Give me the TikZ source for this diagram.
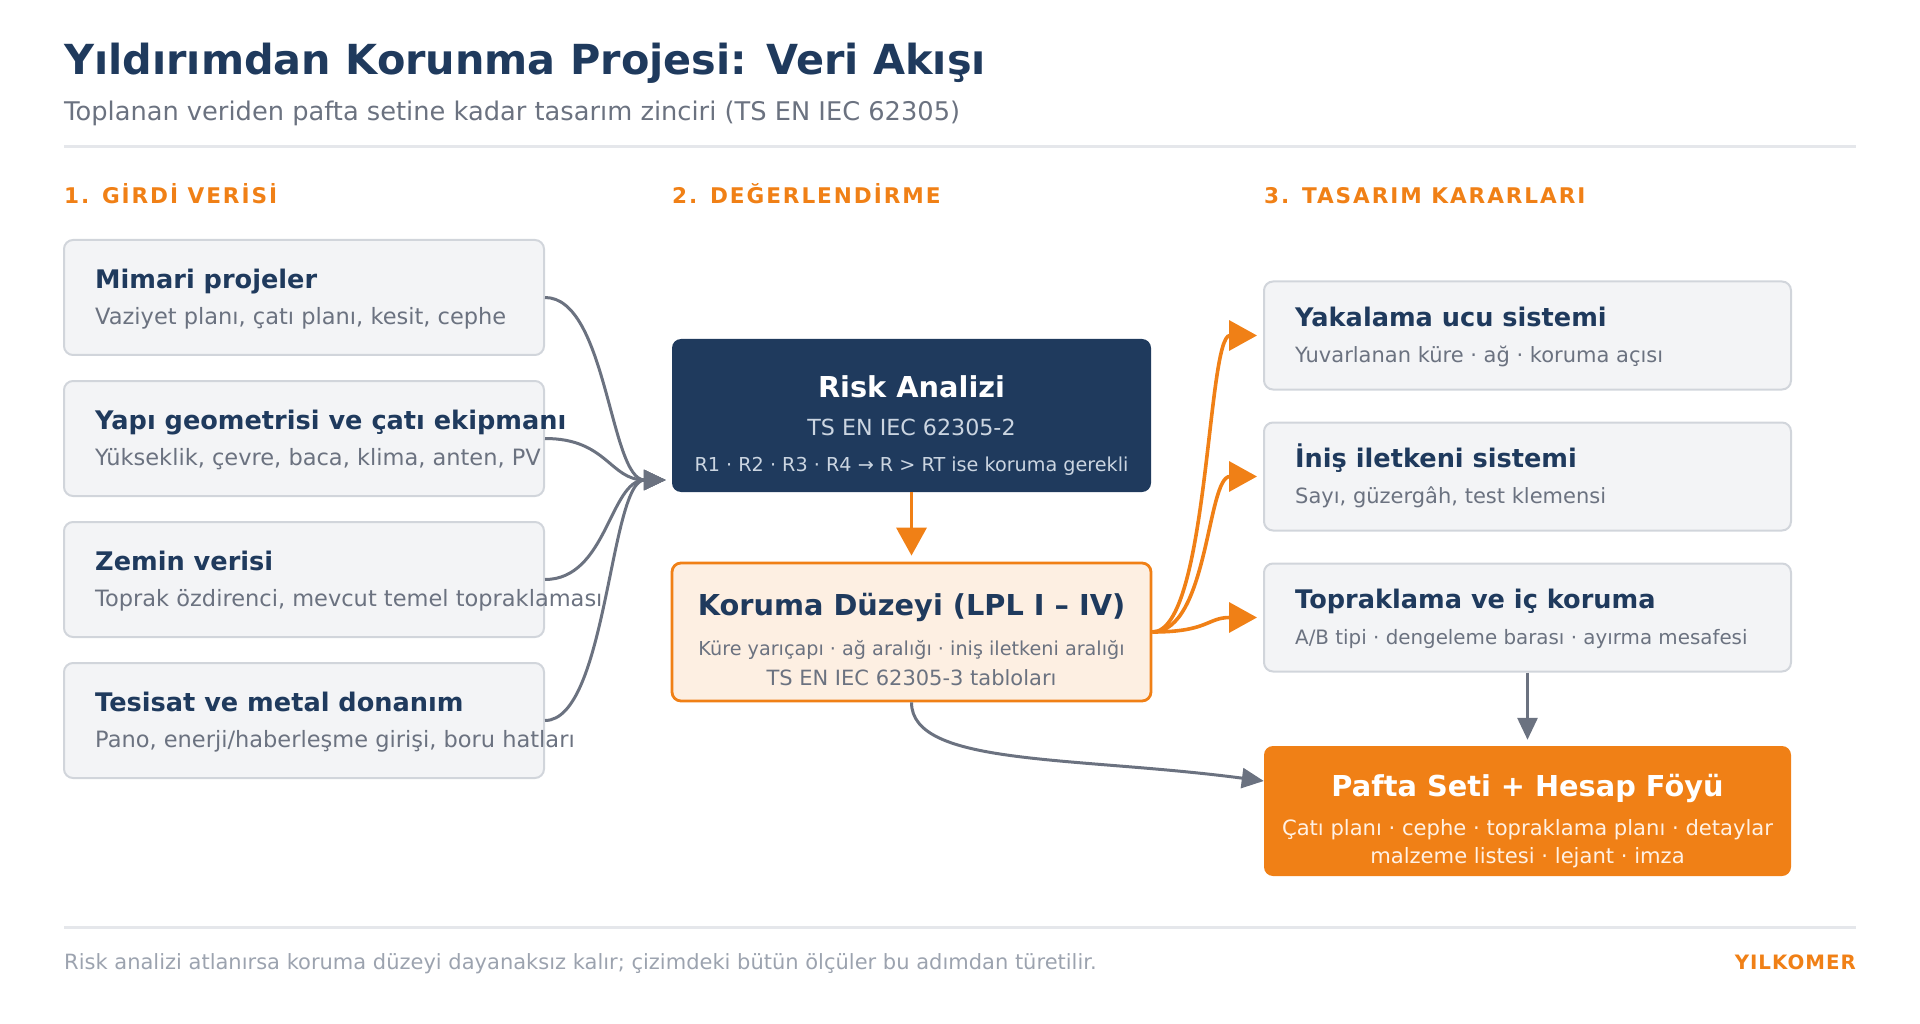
\documentclass[tikz,border=0pt]{standalone}
\usepackage{fontspec}
\setmainfont{DejaVu Sans}
\newfontfamily\spacedfont[LetterSpace=9]{DejaVu Sans}
\newfontfamily\brandfont[LetterSpace=5]{DejaVu Sans}
\usetikzlibrary{arrows.meta}

\definecolor{navy}{RGB}{31,58,93}
\definecolor{accent}{RGB}{240,128,22}
\definecolor{muted}{RGB}{107,114,128}
\definecolor{faint}{RGB}{156,163,175}
\definecolor{rulegray}{RGB}{229,231,235}
\definecolor{boxfill}{RGB}{243,244,246}
\definecolor{boxline}{RGB}{209,213,219}
\definecolor{peach}{RGB}{253,239,226}
\definecolor{pale}{RGB}{203,213,225}
\definecolor{cream}{RGB}{255,241,228}

\newcommand{\fsz}[1]{\fontsize{#1}{#1}\selectfont}

\tikzstyle{inbox} = [rectangle, draw=boxline, fill=boxfill, line width=2pt, rounded corners=9pt]
\tikzstyle{leftbox} = [inbox, minimum width=480pt, minimum height=115pt]
\tikzstyle{rightbox} = [inbox, minimum width=527pt, minimum height=108pt]
\tikzstyle{head} = [anchor=base west, inner sep=0pt, text=navy, font=\fsz{25.6}\bfseries]
\tikzstyle{detail} = [anchor=base west, inner sep=0pt, text=muted, font=\fsz{22.5}]
\tikzstyle{colhead} = [anchor=base west, inner sep=0pt, text=accent, font=\spacedfont\fsz{21.6}\bfseries]
\tikzstyle{ctext} = [anchor=base, inner sep=0pt]
\tikzset{
  flow/.style = {draw=muted, line width=3pt, -{Triangle[length=22pt,width=20pt]}, shorten >=6pt},
  hot/.style = {draw=accent, line width=3.6pt, -{Triangle[length=28pt,width=30pt]}, shorten >=6pt}
}
% title and detail line inside an input / decision box
\newcommand{\infotext}[4][]{%
  \node[head] (#2-h) at ([shift={(32,-9)}]#2.west) {#3};
  \node[detail, #1] (#2-d) at ([shift={(32,27)}]#2.west) {#4};
}

\begin{document}
\begin{tikzpicture}[x=1pt, y=-1pt]
  \useasboundingbox (0,0) rectangle (1920,1024);

  % heading
  \node[anchor=base west, inner sep=0pt, text=navy, font=\fsz{41.4}\bfseries] (title) at (64,75) {Yıldırımdan Korunma Projesi: Veri Akışı};
  \node[anchor=base west, inner sep=0pt, text=muted, font=\fsz{25.7}] (subtitle) at (64,121) {Toplanan veriden pafta setine kadar tasarım zinciri (TS EN IEC 62305)};
  \draw[rulegray, line width=3pt] (64,147) -- (1856,147);

  \node[colhead] (col1) at (64,204) {1. GİRDİ VERİSİ};
  \node[colhead] (col2) at (672,204) {2. DEĞERLENDİRME};
  \node[colhead] (col3) at (1264,204) {3. TASARIM KARARLARI};

  % inputs
  \node[leftbox] (mimari) at (304,297.5) {};
  \node[leftbox] (yapi) at (304,438.5) {};
  \node[leftbox] (zemin) at (304,579.5) {};
  \node[leftbox] (tesisat) at (304,720.5) {};
  \infotext{mimari}{Mimari projeler}{Vaziyet planı, çatı planı, kesit, cephe}
  \infotext{yapi}{Yapı geometrisi ve çatı ekipmanı}{Yükseklik, çevre, baca, klima, anten, PV}
  \infotext{zemin}{Zemin verisi}{Toprak özdirenci, mevcut temel topraklaması}
  \infotext{tesisat}{Tesisat ve metal donanım}{Pano, enerji/haberleşme girişi, boru hatları}

  % assessment
  \node[rectangle, fill=navy, rounded corners=9pt, minimum width=479pt, minimum height=153pt] (risk) at (911.5,415.5) {};
  \node[ctext, text=white, font=\fsz{28.8}\bfseries] (risk-h) at ([shift={(0,-18.5)}]risk.center) {Risk Analizi};
  \node[ctext, text=pale, font=\fsz{22.2}] (risk-d) at ([shift={(0,19.5)}]risk.center) {TS EN IEC 62305-2};
  \node[ctext, text=pale, font=\fsz{19.2}] (risk-r) at ([shift={(0,55.5)}]risk.center) {R1 · R2 · R3 · R4 → R > RT ise koruma gerekli};

  \node[rectangle, draw=accent, fill=peach, line width=2.8pt, rounded corners=9pt, minimum width=479pt, minimum height=138pt] (koruma) at (911.5,632) {};
  \node[ctext, text=navy, font=\fsz{28.8}\bfseries] (koruma-h) at ([shift={(0,-17)}]koruma.center) {Koruma Düzeyi (LPL I – IV)};
  \node[ctext, text=muted, font=\fsz{19.2}] (koruma-d) at ([shift={(0,23)}]koruma.center) {Küre yarıçapı · ağ aralığı · iniş iletkeni aralığı};
  \node[ctext, text=muted, font=\fsz{21}] (koruma-t) at ([shift={(0,53)}]koruma.center) {TS EN IEC 62305-3 tabloları};

  % design decisions
  \node[rightbox] (yakalama) at (1527.5,335.5) {};
  \node[rightbox] (inis) at (1527.5,476.5) {};
  \node[rightbox] (toprak) at (1527.5,617.5) {};
  \infotext[font=\fsz{21}]{yakalama}{Yakalama ucu sistemi}{Yuvarlanan küre · ağ · koruma açısı}
  \infotext[font=\fsz{21}]{inis}{İniş iletkeni sistemi}{Sayı, güzergâh, test klemensi}
  \infotext[font=\fsz{19.85}]{toprak}{Topraklama ve iç koruma}{A/B tipi · dengeleme barası · ayırma mesafesi}

  \node[rectangle, fill=accent, rounded corners=9pt, minimum width=527pt, minimum height=130pt] (pafta) at (1527.5,811) {};
  \node[ctext, text=white, font=\fsz{28.8}\bfseries] (pafta-h) at ([shift={(0,-15)}]pafta.center) {Pafta Seti + Hesap Föyü};
  \node[ctext, text=cream, font=\fsz{21.1}] (pafta-d) at ([shift={(0,24)}]pafta.center) {Çatı planı · cephe · topraklama planı · detaylar};
  \node[ctext, text=cream, font=\fsz{21.1}] (pafta-l) at ([shift={(0,52)}]pafta.center) {malzeme listesi · lejant · imza};

  % edges
  \coordinate (rin) at ([yshift=-64.5pt]risk.west);
  \draw[flow] (mimari.east) .. controls +(62,0) and +(-62,0) .. (rin);
  \draw[flow] (yapi.east) .. controls +(62,0) and +(-62,0) .. (rin);
  \draw[flow] (zemin.east) .. controls +(62,0) and +(-62,0) .. (rin);
  \draw[flow] (tesisat.east) .. controls +(62,0) and +(-62,0) .. (rin);

  \draw[hot] (risk.south) -- (koruma.north);
  \draw[hot] (koruma.east) .. controls +(56,0) and +(-56,0) .. (yakalama.west);
  \draw[hot] (koruma.east) .. controls +(56,0) and +(-56,0) .. (inis.west);
  \draw[hot] (koruma.east) .. controls +(56,0) and +(-56,0) .. (toprak.west);

  \coordinate (pin) at ([yshift=30pt]pafta.west);
  \draw[flow] (toprak.south) -- (pafta.north);
  \draw[flow, shorten >=0pt] (koruma.south) .. controls +(0,64) and +(-190,-25) .. (pin);

  % footer
  \draw[rulegray, line width=3pt] (64,927) -- (1856,927);
  \node[anchor=base west, inner sep=0pt, text=faint, font=\fsz{21}] (note) at (64,969) {Risk analizi atlanırsa koruma düzeyi dayanaksız kalır; çizimdeki bütün ölçüler bu adımdan türetilir.};
  \node[anchor=base east, inner sep=0pt, text=accent, font=\brandfont\fsz{19.8}\bfseries] (brand) at (1856,969) {YILKOMER};
\end{tikzpicture}
\end{document}
